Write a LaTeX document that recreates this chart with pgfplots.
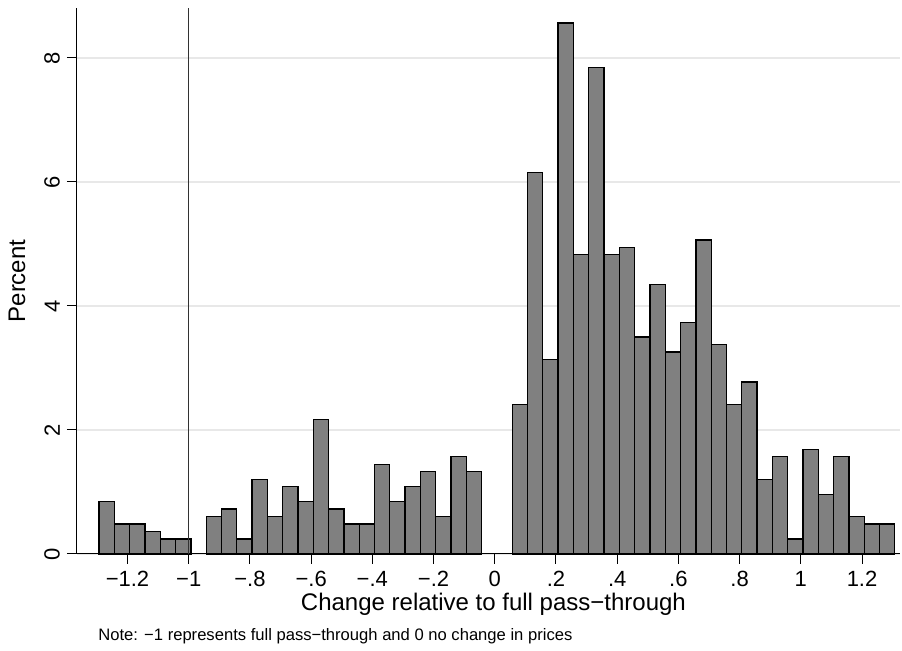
\documentclass[border=0pt]{standalone}
\usepackage{fontspec}
\setmainfont{Liberation Sans}
\usepackage{pgfplots}
\pgfplotsset{compat=1.18}
\definecolor{barfill}{RGB}{128,128,128}
\definecolor{gridc}{RGB}{232,232,232}
\definecolor{refline}{RGB}{50,50,50}
\begin{document}
\begin{tikzpicture}
\path[use as bounding box] (-38.5pt,-48.5pt) rectangle (412.5pt,277pt);
\begin{axis}[
  at={(0,0)}, anchor=south west,
  scale only axis, width=411.5pt, height=273pt,
  xmin=-1.365, xmax=1.324, ymin=0, ymax=8.806,
  axis x line*=bottom, axis y line*=left,
  axis line style={line width=0.5pt, black},
  tick align=outside, major tick length=5pt,
  tick style={line width=0.5pt, black},
  xtick={-1.2,-1,-0.8,-0.6,-0.4,-0.2,0,0.2,0.4,0.6,0.8,1,1.2},
  xticklabels={−1.2,−1,−.8,−.6,−.4,−.2,0,.2,.4,.6,.8,1,1.2},
  ytick={0,2,4,6,8},
  yticklabels={0,2,4,6,8},
  ticklabel style={font=\fontsize{11}{13}\selectfont},
  yticklabel style={rotate=90, anchor=south},
  ymajorgrids, grid style={draw=gridc, line width=0.6pt},
  xlabel={Change relative to full pass−through},
  ylabel={Percent},
  label style={font=\fontsize{12}{14}\selectfont},
  xlabel style={at={(axis description cs:0.506,-0.0916)}, anchor=center},
  ylabel style={at={(axis description cs:-0.0729,0.5)}, anchor=center},
  clip=false,
]
\addplot[ybar interval, fill=barfill, draw=black, line width=0.65pt] coordinates {
(-1.293,0.844) (-1.243,0.483) (-1.193,0.483) (-1.143,0.362) (-1.093,0.241) (-1.043,0.241) (-0.993,0.241)
};
\addplot[ybar interval, fill=barfill, draw=black, line width=0.65pt] coordinates {
(-0.943,0.603) (-0.893,0.724) (-0.843,0.241) (-0.793,1.206) (-0.743,0.603) (-0.693,1.086)
(-0.643,0.844) (-0.593,2.171) (-0.543,0.724) (-0.493,0.483) (-0.443,0.483) (-0.393,1.448)
(-0.343,0.844) (-0.293,1.086) (-0.243,1.327) (-0.193,0.603) (-0.143,1.568) (-0.093,1.327)
(-0.043,1.327)
};
\addplot[ybar interval, fill=barfill, draw=black, line width=0.65pt] coordinates {
(0.057,2.413) (0.107,6.152) (0.157,3.136) (0.207,8.565) (0.257,4.825) (0.307,7.841)
(0.357,4.825) (0.407,4.946) (0.457,3.498) (0.507,4.343) (0.557,3.257) (0.607,3.739)
(0.657,5.066) (0.707,3.378) (0.757,2.413) (0.807,2.774) (0.857,1.206) (0.907,1.568)
(0.957,0.241) (1.007,1.689) (1.057,0.965) (1.107,1.568) (1.157,0.603) (1.207,0.483)
(1.257,0.483) (1.307,0.483)
};
\addplot[refline, line width=0.75pt] coordinates {(-1,0) (-1,8.806)};
\end{axis}
\node[anchor=west, inner sep=0pt, font=\fontsize{8.3}{10}\selectfont] at (10.5pt,-41pt) {Note: −1 represents full pass−through and 0 no change in prices};
\end{tikzpicture}
\end{document}
